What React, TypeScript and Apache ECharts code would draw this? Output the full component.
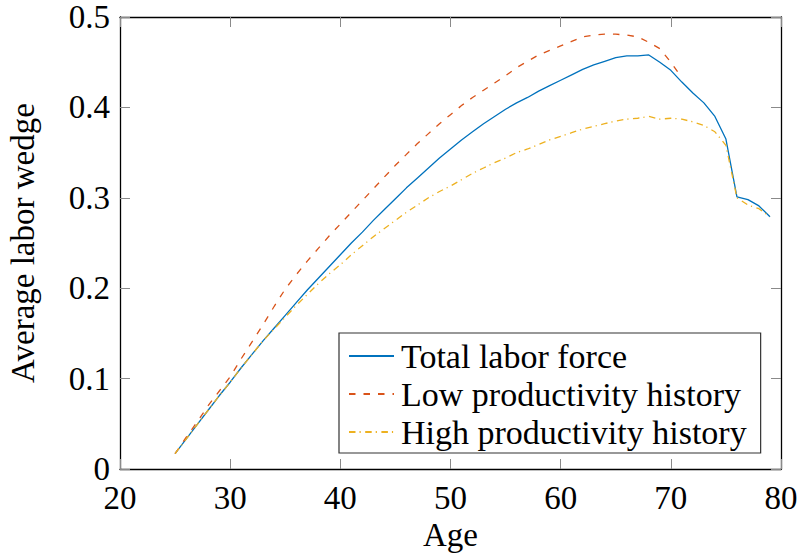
import React, { useEffect, useRef } from "react";
import * as echarts from "echarts";

const ages = [25,26,27,28,29,30,31,32,33,34,35,36,37,38,39,40,41,42,43,44,45,46,47,48,49,50,51,52,53,54,55,56,57,58,59,60,61,62,63,64,65,66,67,68,69,70,71,72,73,74,75,76,77,78,79];

const totalLabor = [0.017,0.033,0.049,0.065,0.081,0.096,0.112,0.127,0.142,0.156,0.170,0.184,0.198,0.211,0.224,0.237,0.250,0.262,0.275,0.287,0.299,0.311,0.322,0.333,0.344,0.354,0.364,0.373,0.382,0.390,0.398,0.405,0.411,0.418,0.424,0.430,0.436,0.442,0.447,0.451,0.455,0.457,0.457,0.458,0.450,0.441,0.428,0.416,0.405,0.390,0.365,0.301,0.298,0.291,0.279];

const lowAges = [25,26,27,28,29,30,31,32,33,34,35,36,37,38,39,40,41,42,43,44,45,46,47,48,49,50,51,52,53,54,55,56,57,58,59,60,61,62,63,64,65,66,67,68,69,70,71];
const lowProd = [0.017,0.035,0.052,0.070,0.086,0.102,0.122,0.141,0.160,0.180,0.199,0.215,0.230,0.244,0.258,0.271,0.284,0.297,0.310,0.323,0.336,0.348,0.360,0.371,0.382,0.392,0.402,0.411,0.419,0.427,0.435,0.444,0.451,0.458,0.463,0.468,0.473,0.478,0.480,0.481,0.481,0.480,0.478,0.472,0.465,0.450,0.433];

const highProd = [0.017,0.033,0.049,0.065,0.081,0.096,0.112,0.127,0.142,0.155,0.168,0.181,0.193,0.205,0.216,0.226,0.237,0.247,0.257,0.266,0.275,0.284,0.292,0.300,0.307,0.313,0.320,0.327,0.333,0.339,0.344,0.350,0.354,0.359,0.364,0.368,0.372,0.376,0.379,0.382,0.385,0.387,0.388,0.390,0.387,0.388,0.387,0.384,0.380,0.373,0.358,0.300,0.292,0.288,0.279];

const seriesNames = ["Total labor force", "Low productivity history", "High productivity history"];
const xTicks = [20, 30, 40, 50, 60, 70, 80];
const yTicks = [0, 0.1, 0.2, 0.3, 0.4, 0.5];

const FONT = "'Liberation Serif', 'DejaVu Serif', serif";

export default function App() {
  const ref = useRef<HTMLDivElement>(null);
  useEffect(() => {
    if (!ref.current) return;
    const chart = echarts.init(ref.current, null, { renderer: "svg" });
    const pair = (xs: number[], ys: number[]) => xs.map((x, i) => [x, ys[i]]);
    const tickStyle = { show: true, inside: true, length: 10, lineStyle: { color: "#8a8a8a", width: 1 } };
    const xBase = {
      type: "value" as const,
      min: xTicks[0],
      max: xTicks[xTicks.length - 1],
      interval: 10,
      splitLine: { show: false },
      axisLine: { show: true, onZero: false, lineStyle: { color: "#000", width: 1.3 } },
      axisTick: tickStyle,
    };
    const yBase = {
      type: "value" as const,
      min: yTicks[0],
      max: yTicks[yTicks.length - 1],
      interval: 0.1,
      splitLine: { show: false },
      axisLine: { show: true, onZero: false, lineStyle: { color: "#000", width: 1.3 } },
      axisTick: tickStyle,
    };
    chart.setOption({
      animation: false,
      backgroundColor: "#fff",
      grid: { left: 120, right: 18, top: 17, bottom: 85, containLabel: false, outerBoundsMode: "none" },
      xAxis: [
        {
          ...xBase,
          position: "bottom",
          name: "Age",
          nameLocation: "middle",
          nameGap: 48,
          nameTextStyle: { fontFamily: FONT, fontSize: 33, color: "#000" },
          axisLabel: { fontFamily: FONT, fontSize: 33, color: "#000", margin: 12 },
        },
        { ...xBase, position: "top", axisLabel: { show: false } },
      ],
      yAxis: [
        {
          ...yBase,
          position: "left",
          name: "Average labor wedge",
          nameLocation: "middle",
          nameGap: 81,
          nameTextStyle: { fontFamily: FONT, fontSize: 33, color: "#000" },
          axisLabel: { fontFamily: FONT, fontSize: 33, color: "#000", margin: 10, formatter: (v: number) => (v === 0 ? "0" : v.toFixed(1)) },
        },
        { ...yBase, position: "right", axisLabel: { show: false } },
      ],
      legend: {
        orient: "vertical",
        left: 339,
        top: 333,
        data: seriesNames,
        backgroundColor: "#fff",
        borderColor: "#333",
        borderWidth: 1.2,
        borderRadius: 0,
        padding: [4, 14, 2, 9],
        itemGap: 0,
        itemWidth: 45,
        itemHeight: 12,
        itemStyle: { opacity: 0 },
        textStyle: { fontFamily: FONT, fontSize: 34, color: "#000", lineHeight: 38, padding: [0, 0, 0, 2] },
      },
      series: [
        {
          name: seriesNames[0],
          type: "line",
          data: pair(ages, totalLabor),
          symbol: "none",
          lineStyle: { color: "#0072BD", width: 1.3, type: "solid" },
          itemStyle: { color: "#0072BD" },
        },
        {
          name: seriesNames[1],
          type: "line",
          data: pair(lowAges, lowProd),
          symbol: "none",
          lineStyle: { color: "#D95319", width: 1.3, type: [6.5, 8] },
          itemStyle: { color: "#D95319" },
        },
        {
          name: seriesNames[2],
          type: "line",
          data: pair(ages, highProd),
          symbol: "none",
          lineStyle: { color: "#EDB120", width: 1.3, type: [6.5, 4, 1.2, 4.5] },
          itemStyle: { color: "#EDB120" },
        },
      ],
    });
    return () => chart.dispose();
  }, []);
  return <div ref={ref} style={{ position: "fixed", left: 0, top: 0, width: 799, height: 554 }} />;
}
